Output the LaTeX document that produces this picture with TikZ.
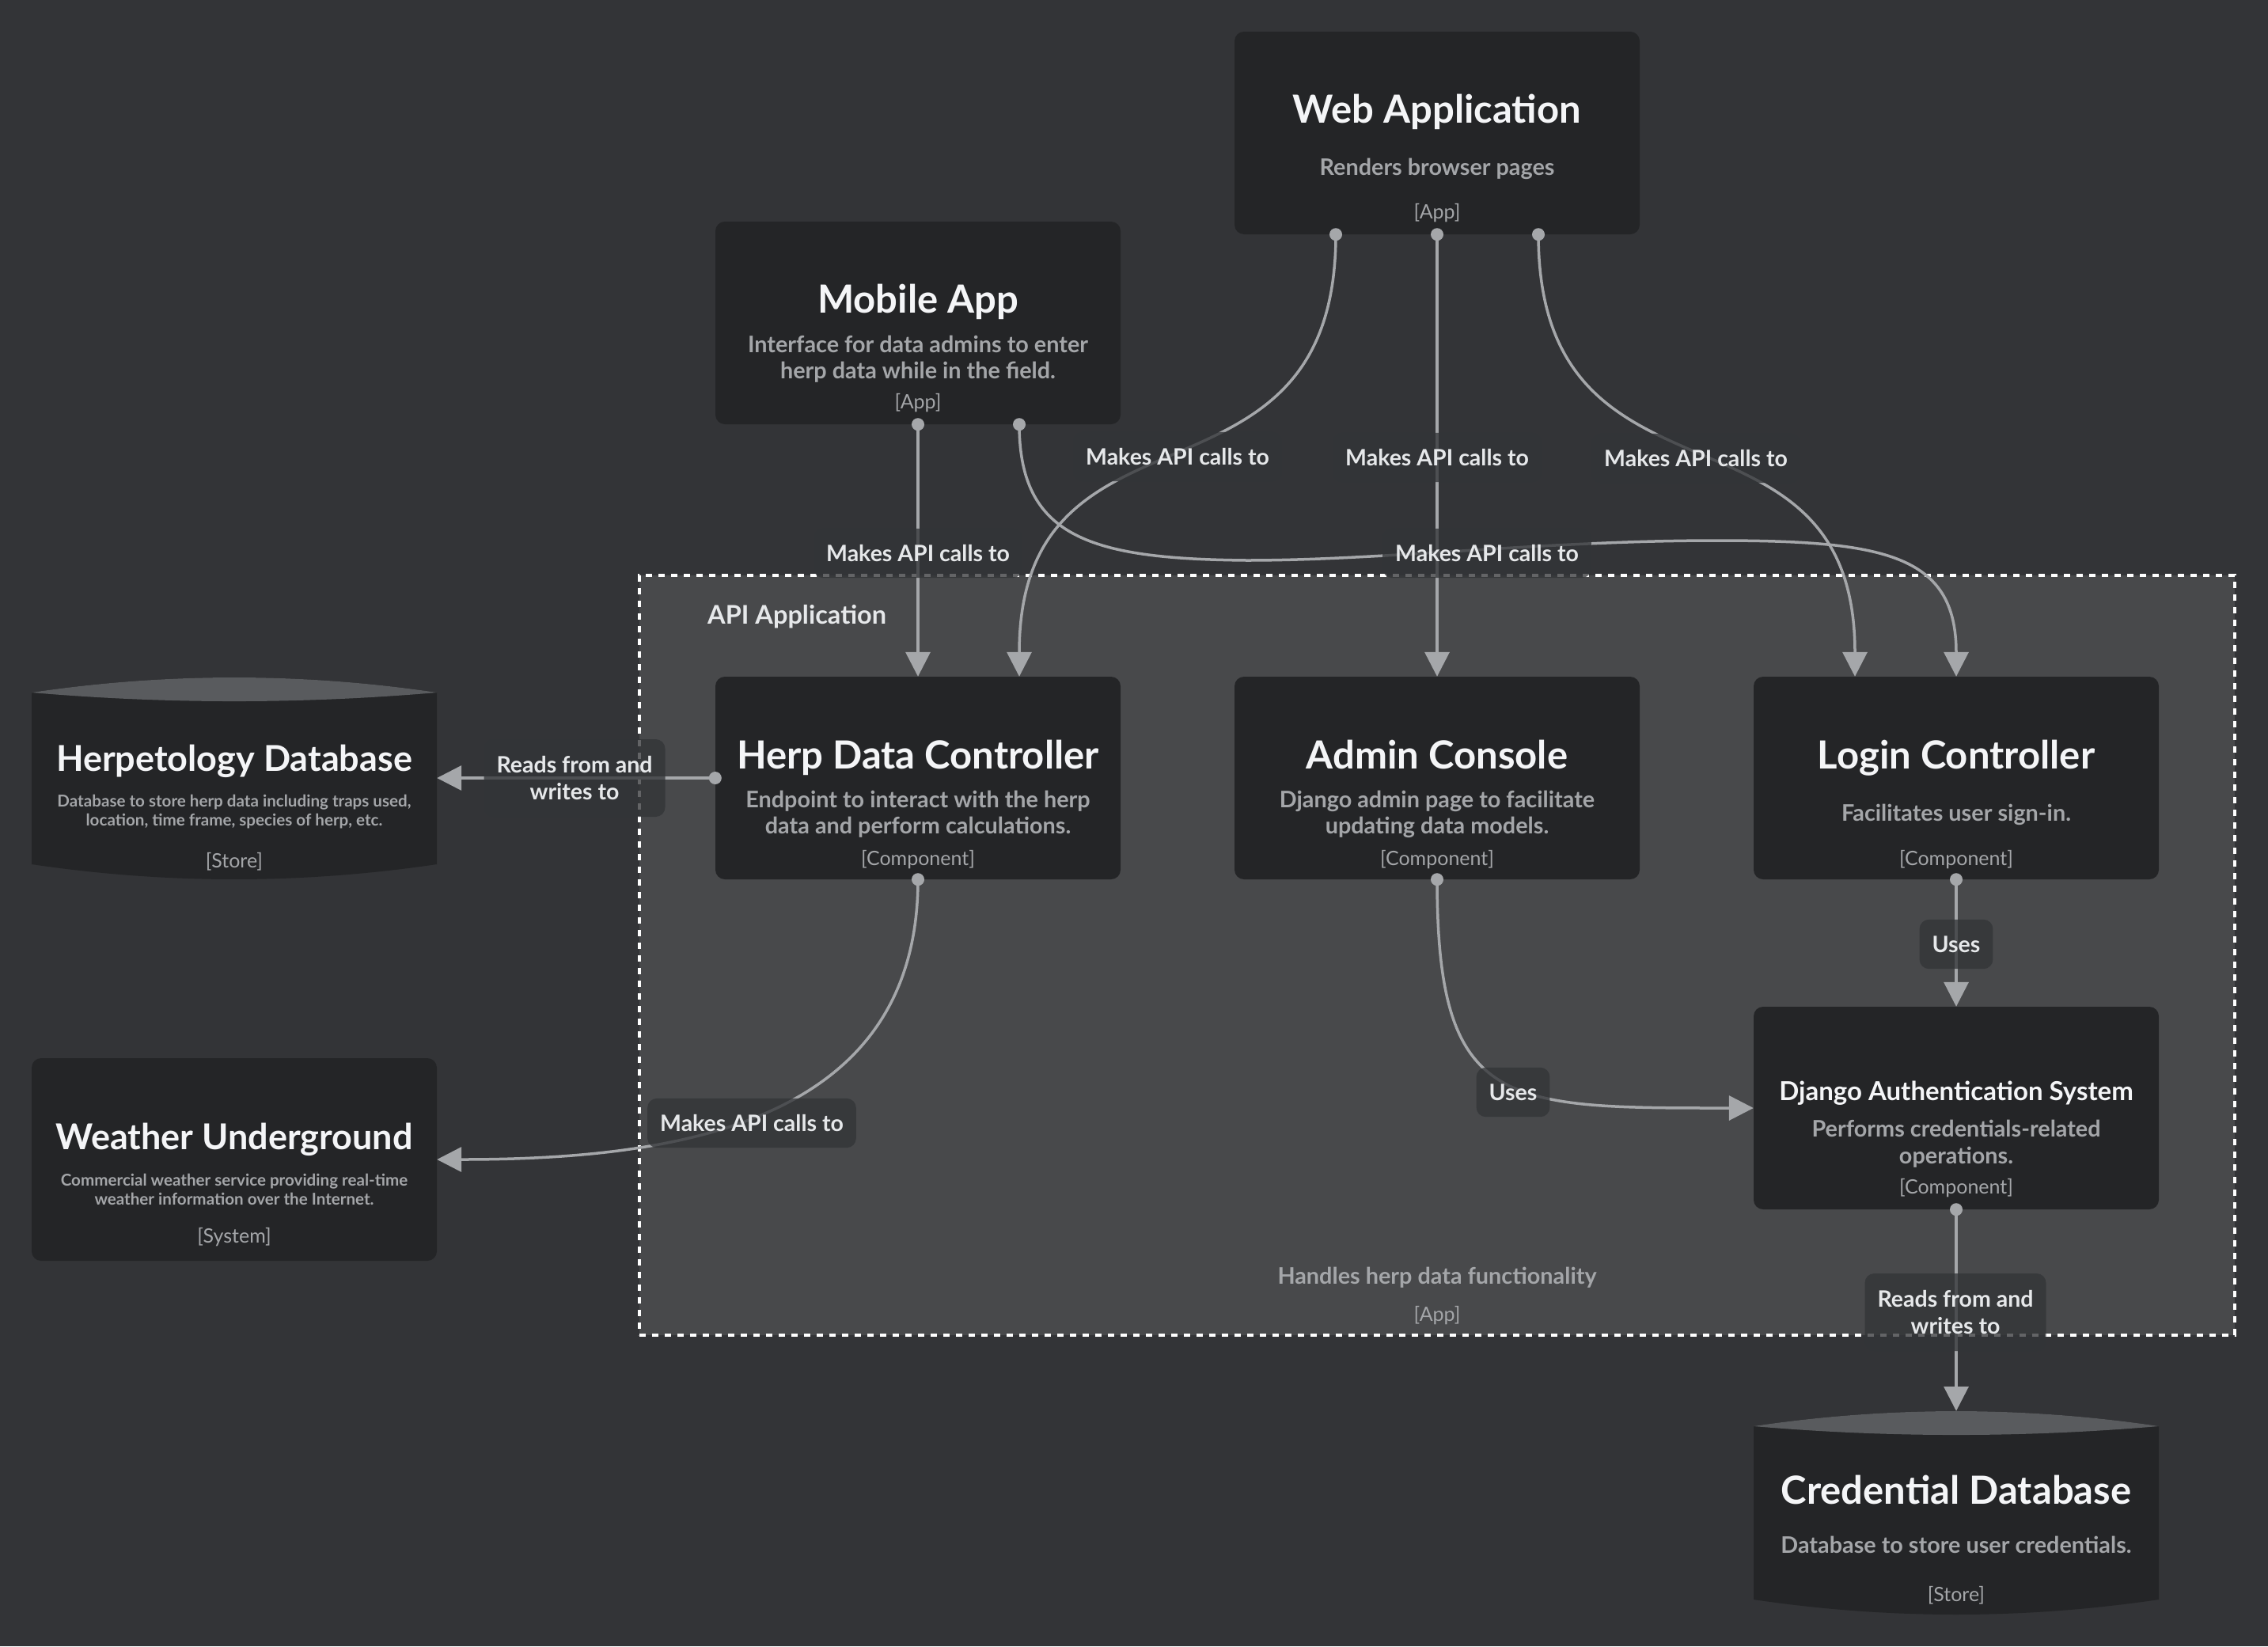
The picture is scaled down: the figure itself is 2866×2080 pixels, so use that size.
\documentclass[tikz,border=0pt]{standalone}
\usepackage{fontspec}
\setmainfont{Lato}
\usetikzlibrary{arrows.meta,calc}
\definecolor{bgc}{HTML}{333437}
\definecolor{bndc}{HTML}{48494B}
\definecolor{boxc}{HTML}{242527}
\definecolor{capc}{HTML}{595B5E}
\definecolor{linec}{HTML}{A5A7AA}
\definecolor{titc}{HTML}{F4F5F7}
\definecolor{descc}{HTML}{A4A6A9}
\definecolor{lblc}{HTML}{E6E8EA}
\definecolor{lblbg}{HTML}{323437}
\begin{document}
\begin{tikzpicture}[x=1pt,y=-1pt,
  box/.style={fill=boxc, draw=none, rounded corners=12pt, minimum width=512pt, minimum height=256pt, inner sep=0pt},
  ghost/.style={draw=none, fill=none, minimum width=512pt, inner sep=0pt},
  boundary/.style={fill=bndc, draw=white, line width=3.5pt, dash pattern=on 8pt off 8pt, minimum width=2016pt, minimum height=960pt, inner sep=0pt},
  ttl/.style={text=titc, font=\fontsize{49}{56}\selectfont\bfseries, anchor=base, inner sep=0pt},
  ttlsm/.style={ttl, font=\fontsize{45}{52}\selectfont\bfseries},
  ttlxs/.style={ttl, font=\fontsize{33}{40}\selectfont\bfseries},
  dsc/.style={text=descc, font=\fontsize{28.8}{33}\selectfont\bfseries, anchor=base, inner sep=0pt},
  dscsm/.style={dsc, font=\fontsize{20.6}{24}\selectfont\bfseries},
  typ/.style={text=descc, font=\fontsize{25}{28}\selectfont, anchor=base, inner sep=0pt},
  bndlbl/.style={text=lblc, font=\fontsize{32.5}{36}\selectfont\bfseries, anchor=base west, inner sep=0pt},
  lblbase/.style={fill=lblbg, fill opacity=0.76, text opacity=1, text=lblc, font=\fontsize{28.5}{33.3}\selectfont\bfseries, rounded corners=12pt, inner xsep=16pt, align=center},
  lbl/.style={lblbase, inner ysep=21pt, text height=20.4pt, text depth=0pt},
  lbltwo/.style={lblbase, inner ysep=21pt, minimum height=98pt},
  conn/.style={draw=linec, line width=3.5pt, -{Triangle[length=31pt,width=31pt]}},
  dotc/.style={fill=linec}
]
% background and bounding box
\fill[bgc] (0,0) rectangle (2866,2080);
\useasboundingbox (0,0) rectangle (2866,2080);

% API Application boundary
\node[boundary] (api) at (1816,1207) {};
\node[bndlbl] (apilbl) at (894,788) {API Application};
\node[dsc] (apidesc) at (1816,1622) {Handles herp data functionality};
\node[typ] (apityp) at (1816,1669) {[App]};

% Web Application
\node[box] (web) at (1816,168) {};
\node[ttl] (webt) at (1816,155) {Web Application};
\node[dsc] (webd) at (1816,221) {Renders browser pages};
\node[typ] (webty) at (1816,276) {[App]};

% Mobile App
\node[box] (mobile) at (1160,408) {};
\node[ttl] (mobt) at (1160,395) {Mobile App};
\node[dsc] (mobd1) at (1160,445) {Interface for data admins to enter};
\node[dsc] (mobd2) at (1160,478) {herp data while in the field.};
\node[typ] (mobty) at (1160,516) {[App]};

% Herp Data Controller
\node[box] (herp) at (1160,983) {};
\node[ttl] (herpt) at (1160,971) {Herp Data Controller};
\node[dsc] (herpd1) at (1160,1020) {Endpoint to interact with the herp};
\node[dsc] (herpd2) at (1160,1053) {data and perform calculations.};
\node[typ] (herpty) at (1160,1093) {[Component]};

% Admin Console
\node[box] (admin) at (1816,983) {};
\node[ttl] (admt) at (1816,971) {Admin Console};
\node[dsc] (admd1) at (1816,1020) {Django admin page to facilitate};
\node[dsc] (admd2) at (1816,1053) {updating data models.};
\node[typ] (admty) at (1816,1093) {[Component]};

% Login Controller
\node[box] (login) at (2472,983) {};
\node[ttl] (logt) at (2472,971) {Login Controller};
\node[dsc] (logd) at (2472,1037) {Facilitates user sign-in.};
\node[typ] (logty) at (2472,1093) {[Component]};

% Django Authentication System
\node[box] (django) at (2472,1400) {};
\node[ttlxs] (djt) at (2472,1390) {Django Authentication System};
\node[dsc] (djd1) at (2472,1436) {Performs credentials-related};
\node[dsc] (djd2) at (2472,1470) {operations.};
\node[typ] (djty) at (2472,1508) {[Component]};

% Weather Underground
\node[box] (weather) at (296,1465) {};
\node[ttlsm] (wt) at (296,1452) {Weather Underground};
\node[dscsm] (wd1) at (296,1498) {Commercial weather service providing real-time};
\node[dscsm] (wd2) at (296,1522) {weather information over the Internet.};
\node[typ] (wty) at (296,1570) {[System]};

% Herpetology Database (cylinder)
\fill[boxc] (40,875) .. controls (210.7,849.7) and (381.3,849.7) .. (552,875) -- (552,1092)
  .. controls (381.3,1117.3) and (210.7,1117.3) .. (40,1092) -- cycle;
\fill[capc] (40,875) .. controls (210.7,849.7) and (381.3,849.7) .. (552,875)
  .. controls (381.3,889.7) and (210.7,889.7) .. (40,875) -- cycle;
\node[ghost, minimum height=236pt] (herpdb) at (296,983) {};
\node[ttlsm] (hdbt) at (296,974) {Herpetology Database};
\node[dscsm] (hdbd1) at (296,1019) {Database to store herp data including traps used,};
\node[dscsm] (hdbd2) at (296,1043) {location, time frame, species of herp, etc.};
\node[typ] (hdbty) at (296,1096) {[Store]};

% Credential Database (cylinder)
\fill[boxc] (2216,1802) .. controls (2386.7,1776.7) and (2557.3,1776.7) .. (2728,1802) -- (2728,2021)
  .. controls (2557.3,2046.3) and (2386.7,2046.3) .. (2216,2021) -- cycle;
\fill[capc] (2216,1802) .. controls (2386.7,1776.7) and (2557.3,1776.7) .. (2728,1802)
  .. controls (2557.3,1816.7) and (2386.7,1816.7) .. (2216,1802) -- cycle;
\node[ghost, minimum height=257pt] (cred) at (2472,1911.5) {};
\node[ttl] (credt) at (2472,1900) {Credential Database};
\node[dsc] (credd) at (2472,1962) {Database to store user credentials.};
\node[typ] (credty) at (2472,2023) {[Store]};

% connector end points
\coordinate (webL) at ($(web.south)+(-128,0)$);
\coordinate (webR) at ($(web.south)+(128,0)$);
\coordinate (mobR) at ($(mobile.south)+(128,0)$);
\coordinate (herpR) at ($(herp.north)+(128,0)$);
\coordinate (loginL) at ($(login.north)+(-128,0)$);

% connectors
\draw[conn] (mobile.south) -- (herp.north);
\draw[conn] (mobR) .. controls +(0,144) and (1380,706) .. (1575,708)
  .. controls (1750,708) and (1950,683) .. (2169,683)
  .. controls (2380,683) and (2472,700) .. (login.north);
\draw[conn] (webL) .. controls +(0,372) and +(0,-372) .. (herpR);
\draw[conn] (web.south) -- (admin.north);
\draw[conn] (webR) .. controls +(0,372) and +(0,-372) .. (loginL);
\draw[conn] (herp.west) -- (herpdb.east);
\draw[conn] (herp.south) .. controls +(0,310) and +(300,0) .. (weather.east);
\draw[conn] (admin.south) .. controls +(0,290) and +(-316,0) .. (django.west);
\draw[conn] (login.south) -- (django.north);
\draw[conn] (django.south) -- (cred.north);

% start dots
\foreach \p in {webL, web.south, webR, mobile.south, mobR, herp.west, herp.south, admin.south, login.south, django.south}
  \fill[dotc] (\p) circle[radius=8pt];

% connector labels
\node[lbl] (l1) at (1160,699) {Makes API calls to};
\node[lbl] (l2) at (1488,577) {Makes API calls to};
\node[lbl] (l3) at (1816,578) {Makes API calls to};
\node[lbl] (l4) at (2143,579) {Makes API calls to};
\node[lbl] (l5) at (1879,699) {Makes API calls to};
\node[lbltwo] (l6) at (726,983) {Reads from and\\writes to};
\node[lbl] (l7) at (950,1419) {Makes API calls to};
\node[lbl] (l8) at (1912,1380) {Uses};
\node[lbl] (l9) at (2472,1193) {Uses};
\node[lbltwo] (l10) at (2471,1658) {Reads from and\\writes to};
\end{tikzpicture}
\end{document}
